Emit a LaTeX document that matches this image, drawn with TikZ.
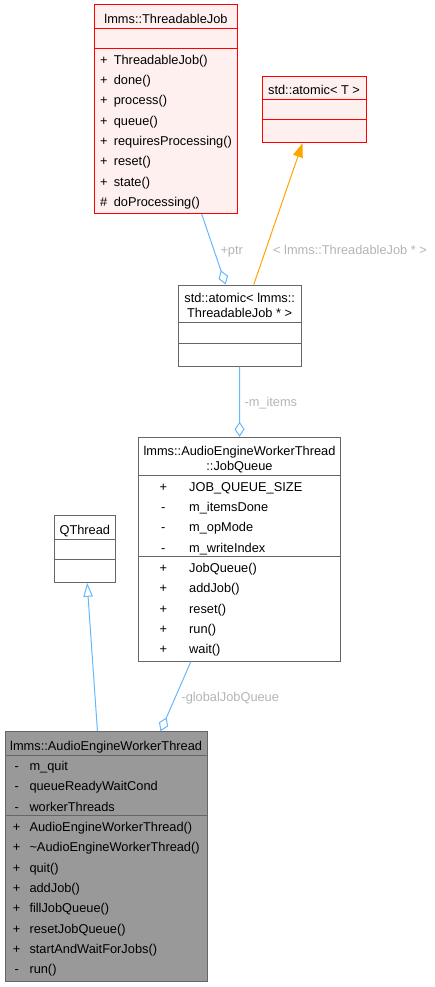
\documentclass[tikz,border=0pt]{standalone}
\usepackage{fontspec}
\setmainfont{Liberation Sans}
\usetikzlibrary{arrows.meta}
\definecolor{edge-blue}{HTML}{63B8FF}
\definecolor{edge-orange}{HTML}{FFA500}
\definecolor{label-grey}{HTML}{B4B4B4}
\definecolor{class-red}{HTML}{FF0000}
\definecolor{class-red-bg}{HTML}{FFF0F0}
\definecolor{class-grey}{HTML}{666666}
\definecolor{focus-grey}{HTML}{999999}

\begin{document}
\begin{tikzpicture}[x=1pt, y=-1pt, line width=1pt,
        every node/.style={font=\fontsize{12.8}{15}\selectfont, inner sep=0pt},
        title/.style={anchor=base},
        sgn/.style={anchor=base},
        mem/.style={anchor=base west},
        lbl/.style={anchor=base west, text=label-grey},
        assoc/.style={draw=edge-blue, -{Diamond[open, length=15pt, width=10pt]}}]
      \useasboundingbox (0,0) rectangle (434,987);

      % lmms::ThreadableJob
      \node[draw=class-red, fill=class-red-bg, minimum width=143pt, minimum height=208.6pt] (TJ) at (166,109.3) {};
      \draw[class-red] (94.5,28.3) -- (237.5,28.3);
      \draw[class-red] (94.5,49) -- (237.5,49);
      \node[title] (TJt) at (166,23.3) {lmms::ThreadableJob};
      \node[sgn] (TJs1) at (103.8,64.3) {+};  \node[mem] (TJm1) at (113.3,64.3) {ThreadableJob()};
      \node[sgn] (TJs2) at (103.8,84.6) {+};  \node[mem] (TJm2) at (113.3,84.6) {done()};
      \node[sgn] (TJs3) at (103.8,104.9) {+}; \node[mem] (TJm3) at (113.3,104.9) {process()};
      \node[sgn] (TJs4) at (103.8,125.3) {+}; \node[mem] (TJm4) at (113.3,125.3) {queue()};
      \node[sgn] (TJs5) at (103.8,145.6) {+}; \node[mem] (TJm5) at (113.3,145.6) {requiresProcessing()};
      \node[sgn] (TJs6) at (103.8,165.9) {+}; \node[mem] (TJm6) at (113.3,165.9) {reset()};
      \node[sgn] (TJs7) at (103.8,186.2) {+}; \node[mem] (TJm7) at (113.3,186.2) {state()};
      \node[sgn] (TJs8) at (103.8,206.6) {\#}; \node[mem] (TJm8) at (113.3,206.6) {doProcessing()};

      % std::atomic< T >
      \node[draw=class-red, fill=class-red-bg, minimum width=104pt, minimum height=66pt] (AT) at (314,109.7) {};
      \draw[class-red] (262,99.3) -- (366,99.3);
      \draw[class-red] (262,120) -- (366,120);
      \node[title] (ATt) at (314,94.6) {std::atomic< T >};

      % std::atomic< lmms::ThreadableJob * >
      \node[draw=class-grey, fill=white, minimum width=122.7pt, minimum height=81pt] (AJ) at (239.65,325.5) {};
      \draw[class-grey] (178.3,322.7) -- (301,322.7);
      \draw[class-grey] (178.3,343.3) -- (301,343.3);
      \node[title] (AJt1) at (239.65,302.8) {std::atomic< lmms::};
      \node[title] (AJt2) at (239.65,317.9) {ThreadableJob * >};

      % lmms::AudioEngineWorkerThread::JobQueue
      \node[draw=class-grey, fill=white, minimum width=201.6pt, minimum height=223.7pt] (JQ) at (239.5,549.15) {};
      \draw[class-grey] (138.7,475.3) -- (340.3,475.3);
      \draw[class-grey] (138.7,556.7) -- (340.3,556.7);
      \node[title] (JQt1) at (239.5,455) {lmms::AudioEngineWorkerThread};
      \node[title] (JQt2) at (239.5,470) {::JobQueue};
      \node[sgn] (JQs1) at (163.3,491) {+};   \node[mem] (JQm1) at (188.7,491) {JOB\_QUEUE\_SIZE};
      \node[sgn] (JQs2) at (163.3,511.3) {-}; \node[mem] (JQm2) at (188.7,511.3) {m\_itemsDone};
      \node[sgn] (JQs3) at (163.3,531.6) {-}; \node[mem] (JQm3) at (188.7,531.6) {m\_opMode};
      \node[sgn] (JQs4) at (163.3,552) {-};   \node[mem] (JQm4) at (188.7,552) {m\_writeIndex};
      \node[sgn] (JQs5) at (163.3,572.3) {+}; \node[mem] (JQm5) at (188.7,572.3) {JobQueue()};
      \node[sgn] (JQs6) at (163.3,592.6) {+}; \node[mem] (JQm6) at (188.7,592.6) {addJob()};
      \node[sgn] (JQs7) at (163.3,613) {+};   \node[mem] (JQm7) at (188.7,613) {reset()};
      \node[sgn] (JQs8) at (163.3,633.3) {+}; \node[mem] (JQm8) at (188.7,633.3) {run()};
      \node[sgn] (JQs9) at (163.3,653.6) {+}; \node[mem] (JQm9) at (188.7,653.6) {wait()};

      % QThread
      \node[draw=class-grey, fill=white, minimum width=61pt, minimum height=66.6pt] (QT) at (84.8,549) {};
      \draw[class-grey] (54.3,539) -- (115.3,539);
      \draw[class-grey] (54.3,559.3) -- (115.3,559.3);
      \node[title] (QTt) at (84.8,534) {QThread};

      % lmms::AudioEngineWorkerThread
      \node[draw=class-grey, fill=focus-grey, minimum width=202.3pt, minimum height=250pt] (AEW) at (106.15,856.7) {};
      \draw[class-grey] (5,755.3) -- (207.3,755.3);
      \draw[class-grey] (5,815.7) -- (207.3,815.7);
      \node[title] (AEWt) at (106.15,750.7) {lmms::AudioEngineWorkerThread};
      \node[sgn] (AEWs1) at (16.7,770.3) {-};  \node[mem] (AEWm1) at (29,770.3) {m\_quit};
      \node[sgn] (AEWs2) at (16.7,790.6) {-};  \node[mem] (AEWm2) at (29,790.6) {queueReadyWaitCond};
      \node[sgn] (AEWs3) at (16.7,811) {-};    \node[mem] (AEWm3) at (29,811) {workerThreads};
      \node[sgn] (AEWs4) at (16.7,831.3) {+};  \node[mem] (AEWm4) at (29,831.3) {AudioEngineWorkerThread()};
      \node[sgn] (AEWs5) at (16.7,851.6) {+};  \node[mem] (AEWm5) at (29,851.6) {\textasciitilde AudioEngineWorkerThread()};
      \node[sgn] (AEWs6) at (16.7,872) {+};    \node[mem] (AEWm6) at (29,872) {quit()};
      \node[sgn] (AEWs7) at (16.7,892.3) {+};  \node[mem] (AEWm7) at (29,892.3) {addJob()};
      \node[sgn] (AEWs8) at (16.7,912.6) {+};  \node[mem] (AEWm8) at (29,912.6) {fillJobQueue()};
      \node[sgn] (AEWs9) at (16.7,933) {+};    \node[mem] (AEWm9) at (29,933) {resetJobQueue()};
      \node[sgn] (AEWs10) at (16.7,953.3) {+}; \node[mem] (AEWm10) at (29,953.3) {startAndWaitForJobs()};
      \node[sgn] (AEWs11) at (16.7,973.6) {-}; \node[mem] (AEWm11) at (29,973.6) {run()};

      % relations
      \draw[assoc] (TJ) -- (AJ);
      \draw[draw=edge-orange, -{Triangle[length=14pt, width=10pt]}] (AJ) -- (AT);
      \draw[assoc] (AJ) -- (JQ);
      \draw[assoc] (JQ) -- (AEW);
      \draw[draw=edge-blue, -{Triangle[open, length=14pt, width=9.5pt]}] (AEW) -- (QT);
      \node[lbl] (ptr) at (220,254) {+ptr};
      \node[lbl] (tmpl) at (272.7,254) {< lmms::ThreadableJob * >};
      \node[lbl] (items) at (244,406) {-m\_items};
      \node[lbl] (gjq) at (181,701) {-globalJobQueue};
    \end{tikzpicture}
\end{document}
